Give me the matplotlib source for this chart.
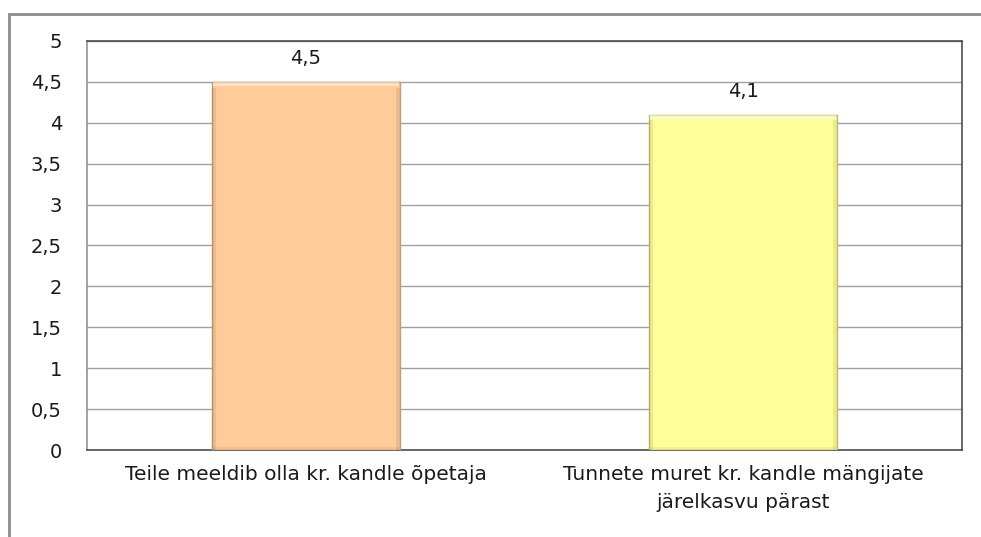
import matplotlib.pyplot as plt
from matplotlib.patches import Rectangle
from matplotlib.ticker import MultipleLocator, FuncFormatter

# data
categories = ["Teile meeldib olla kr. kandle õpetaja",
              "Tunnete muret kr. kandle mängijate\njärelkasvu pärast"]
values = [4.5, 4.1]
bar_colors = ["#FFCC99", "#FFFF99"]
edge_colors = ["#C99A70", "#BDBD66"]

plt.rcParams['font.family'] = ['DejaVu Sans']

fig = plt.figure(figsize=(9.81, 5.37), dpi=100)
ax = fig.add_axes([87 / 981, 87 / 537, 875 / 981, 409 / 537])

# outer chart frame (only left/top visible in the picture)
fig.patches.append(Rectangle((9 / 981, -0.05), 1.2, 1 - 14 / 537 + 0.05,
                             transform=fig.transFigure, fill=False,
                             edgecolor="#8C8C8C", linewidth=2))

x = list(range(len(values)))
w = 0.43
bars = ax.bar(x, values, width=w, color=bar_colors,
              edgecolor=edge_colors, linewidth=1.0, zorder=3)

# fake bevel: light top band, darker sides and bottom
for b in bars:
    x0, h = b.get_x(), b.get_height()
    bw = b.get_width()
    ax.bar(x0 + bw / 2, 0.05, bottom=h - 0.055, width=bw - 0.004,
           color="white", alpha=0.45, linewidth=0, zorder=4)
    ax.bar(x0 + 0.005, h - 0.07, width=0.009, color="#000000", alpha=0.08,
           linewidth=0, zorder=4)
    ax.bar(x0 + bw - 0.005, h - 0.07, width=0.009, color="#000000", alpha=0.08,
           linewidth=0, zorder=4)
    ax.bar(x0 + bw / 2, 0.04, width=bw - 0.004, color="#000000", alpha=0.06,
           linewidth=0, zorder=4)

for xi, v in zip(x, values):
    ax.annotate(f"{v:.1f}".replace(".", ","), (xi, v), xytext=(0, 10),
                textcoords="offset points", ha="center", va="bottom",
                fontsize=14, color="#1a1a1a")

ax.set_xlim(-0.5, 1.5)
ax.set_ylim(0, 5)
ax.yaxis.set_major_locator(MultipleLocator(0.5))
ax.yaxis.set_major_formatter(FuncFormatter(
    lambda v, p: f"{v:g}".replace(".", ",")))
ax.set_xticks(x)
ax.set_xticklabels(categories, fontsize=14.5, color="#1a1a1a",
                   linespacing=1.6)
ax.tick_params(axis="y", labelsize=14, labelcolor="#1a1a1a", length=0, pad=18)
ax.tick_params(axis="x", length=0, pad=10.5)

ax.grid(axis="y", color="#A0A0A0", linewidth=1.0, zorder=0)
for s in ["top", "right", "bottom"]:
    ax.spines[s].set_color("#404040")
    ax.spines[s].set_linewidth(1.1)
ax.spines["left"].set_color("#8C8C8C")
ax.spines["left"].set_linewidth(1.1)

fig.savefig("out.png", dpi=100)
